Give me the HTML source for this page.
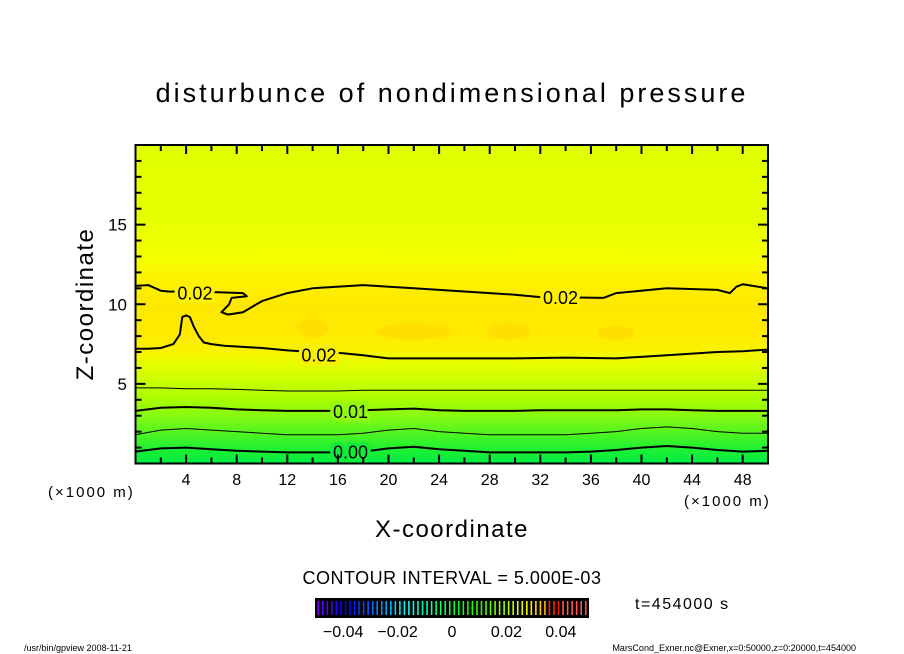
<!DOCTYPE html>
<html><head><meta charset="utf-8"><style>
html,body{margin:0;padding:0;background:#fff;}
svg{display:block;font-family:"Liberation Sans",sans-serif;}
</style></head><body>
<svg id="chart" width="904" height="654" viewBox="0 0 904 654" xmlns="http://www.w3.org/2000/svg">
<defs>
<linearGradient id="field" x1="0" y1="1" x2="0" y2="0">
<stop offset="0" stop-color="#00ee44"/>
<stop offset="0.05" stop-color="#22f030"/>
<stop offset="0.1" stop-color="#55f520"/>
<stop offset="0.15" stop-color="#88fa10"/>
<stop offset="0.2" stop-color="#a8fc00"/>
<stop offset="0.25" stop-color="#c4ff00"/>
<stop offset="0.3" stop-color="#e0ff00"/>
<stop offset="0.35" stop-color="#f8f400"/>
<stop offset="0.4" stop-color="#ffea00"/>
<stop offset="0.5" stop-color="#ffe800"/>
<stop offset="0.575" stop-color="#fff200"/>
<stop offset="0.65" stop-color="#f4ff00"/>
<stop offset="0.75" stop-color="#e8ff00"/>
<stop offset="1" stop-color="#e0ff00"/>
</linearGradient>
</defs>
<text x="452" y="102" font-size="27" text-anchor="middle" letter-spacing="3">disturbunce of nondimensional pressure</text>
<g id="plot"></g>
<text x="452" y="537" font-size="24" text-anchor="middle" letter-spacing="1.5">X-coordinate</text>
<text transform="translate(93,304) rotate(-90)" font-size="24" text-anchor="middle" letter-spacing="1.5">Z-coordinate</text>
<text x="48" y="497" font-size="15" letter-spacing="2">(×1000 m)</text>
<text x="684" y="506" font-size="15" letter-spacing="2">(×1000 m)</text>
<text x="452" y="584" font-size="18" text-anchor="middle" letter-spacing="0.5">CONTOUR INTERVAL = 5.000E-03</text>
<g id="cbar"></g>
<text x="635" y="609" font-size="16" letter-spacing="1.5">t=454000 s</text>
<text x="24" y="651" font-size="9">/usr/bin/gpview  2008-11-21</text>
<text x="856" y="651" font-size="9" text-anchor="end">MarsCond_Exner.nc@Exner,x=0:50000,z=0:20000,t=454000</text>
</svg>
<script>
const xTicks=[4,8,12,16,20,24,28,32,36,40,44,48];
const zTicks=[5,10,15];
const xs=[0,2,4,6,8,10,12,14,16,18,20,22,24,26,28,30,32,34,36,38,40,42,44,46,48,50];
const c000=[0.75,0.95,1.0,0.9,0.8,0.75,0.7,0.7,0.7,0.75,0.95,1.05,0.9,0.8,0.7,0.7,0.7,0.7,0.75,0.85,1.0,1.1,1.0,0.85,0.75,0.8];
const c005=[1.8,2.1,2.2,2.1,2.0,1.9,1.8,1.8,1.8,1.9,2.1,2.2,2.0,1.9,1.8,1.8,1.8,1.8,1.9,2.0,2.2,2.3,2.2,2.0,1.9,1.9];
const c010=[3.3,3.5,3.55,3.5,3.4,3.35,3.3,3.3,3.3,3.35,3.4,3.45,3.35,3.3,3.3,3.3,3.35,3.35,3.35,3.35,3.4,3.4,3.35,3.3,3.3,3.3];
const c015=[4.75,4.75,4.7,4.7,4.65,4.6,4.55,4.55,4.55,4.6,4.6,4.6,4.6,4.6,4.6,4.6,4.6,4.6,4.6,4.6,4.6,4.6,4.6,4.6,4.6,4.6];
const low020x=[0,1,2,3,3.5,3.7,4,4.3,4.6,5,5.4,6,7,8,10,12,14,16,18,20,22,26,30,34,38,42,46,48,50];
const low020z=[7.2,7.2,7.25,7.5,8.1,9.2,9.3,9.2,8.6,8.0,7.6,7.5,7.4,7.35,7.25,7.1,7.0,6.95,6.8,6.6,6.6,6.6,6.6,6.65,6.6,6.8,7.0,7.05,7.15];
const up020x=[0,1,2,2.6,6.5,8.5,8.8,7.6,7.4,6.8,7.3,8.5,10,12,14,18,22,26,30,32,32.5,37,38,42,46,47,47.5,48,50];
const up020z=[11.15,11.2,10.85,10.8,10.75,10.7,10.5,10.4,10.0,9.5,9.35,9.5,10.2,10.7,11.0,11.2,11.0,10.8,10.6,10.45,10.45,10.4,10.7,11.0,10.9,10.7,11.1,11.25,11.0];
const blobs=[[14,8.5,1.2,0.6],[22,8.3,3,0.5],[29.5,8.3,1.7,0.5],[38,8.2,1.5,0.4]];
const labels=[["0.02",4.7,10.75,"#fff200"],["0.02",14.5,6.85,"#f8f000"],["0.02",33.6,10.45,"#fff000"],["0.01",17,3.3,"#90fa10"],["0.00",17,0.75,"#10ee3a"]];
const cbTicks=[-0.04,-0.02,0,0.02,0.04];

const NS="http://www.w3.org/2000/svg";
const X0=135.5,X1=768,Y0=463.5,Y1=145;
const sx=x=>X0+(X1-X0)*x/50;
const sz=z=>Y0-(Y0-Y1)*z/20;
function mk(tag,attrs,parent){const e=document.createElementNS(NS,tag);for(const k in attrs)e.setAttribute(k,attrs[k]);parent.appendChild(e);return e;}
const plot=document.getElementById('plot');
const bg=mk('rect',{x:X0,y:Y1,width:X1-X0,height:Y0-Y1,fill:'url(#field)'},plot);


blobs.forEach(b=>{const e=mk('ellipse',{cx:sx(b[0]),cy:sz(b[1]),rx:(X1-X0)*b[2]/50,ry:(Y0-Y1)*b[3]/20,fill:'#ffdc00',opacity:0.8},plot);

});
function line(xa,za,w,name){const d=xa.map((x,i)=>(i?'L':'M')+sx(x).toFixed(1)+','+sz(za[i]).toFixed(1)).join('');
const p=mk('path',{d:d,fill:'none',stroke:'#000','stroke-width':w,'stroke-linejoin':'round'},plot);

}
line(xs,c000,2,'contour-0.000');
line(xs,c005,1,'contour-0.005');
line(xs,c010,2,'contour-0.010');
line(xs,c015,1,'contour-0.015');
line(low020x,low020z,2,'contour-0.020-lower');
line(up020x,up020z,2,'contour-0.020-upper');
labels.forEach(l=>{const t=mk('text',{x:sx(l[1]),y:sz(l[2])+7,'font-size':18,'text-anchor':'middle',stroke:l[3],'stroke-width':7,'paint-order':'stroke'},plot);t.textContent=l[0];

});
const fr=mk('rect',{x:X0,y:Y1,width:X1-X0,height:Y0-Y1,fill:'none',stroke:'#000','stroke-width':2},plot);


for(let x=2;x<50;x+=2){const L=x%4==0?9:6;
mk('line',{x1:sx(x),x2:sx(x),y1:Y0,y2:Y0-L,stroke:'#000','stroke-width':2},plot);
mk('line',{x1:sx(x),x2:sx(x),y1:Y1,y2:Y1+L,stroke:'#000','stroke-width':2},plot);}
for(let z=1;z<20;z++){const L=z%5==0?10:6;
mk('line',{x1:X0,x2:X0+L,y1:sz(z),y2:sz(z),stroke:'#000','stroke-width':2},plot);
mk('line',{x1:X1,x2:X1-L,y1:sz(z),y2:sz(z),stroke:'#000','stroke-width':2},plot);}
xTicks.forEach(x=>{const t=mk('text',{x:sx(x),y:485,'font-size':16,'text-anchor':'middle'},plot);t.textContent=x;

});
zTicks.forEach(z=>{const t=mk('text',{x:127,y:sz(z)+6,'font-size':17,'text-anchor':'end'},plot);t.textContent=z;

});
const cb=document.getElementById('cbar');
const CX0=316,CX1=588;
const cx=v=>CX0+(CX1-CX0)*(v+0.05)/0.1;
mk('rect',{x:CX0-1,y:598,width:CX1-CX0+2,height:20,fill:'#000'},cb);
function col(v){const t=(v+0.05)/0.1;const h=270-270*t;return 'hsl('+(t>0.85?0+(1-t)*60:h)+',100%,'+(t>0.9?65:50)+'%)';}
for(let i=0;i<60;i++){const v=-0.05+0.1*(i+0.5)/60;mk('line',{x1:CX0+(i+0.5)*(CX1-CX0)/60,x2:CX0+(i+0.5)*(CX1-CX0)/60,y1:601,y2:615,stroke:col(v),'stroke-width':1.6},cb);}
cbTicks.forEach(v=>{const t=mk('text',{x:cx(v),y:637,'font-size':16,'text-anchor':'middle'},cb);t.textContent=v===0?'0':(v<0?'\u2212':'')+Math.abs(v).toFixed(2);

});
</script>
</body></html>
